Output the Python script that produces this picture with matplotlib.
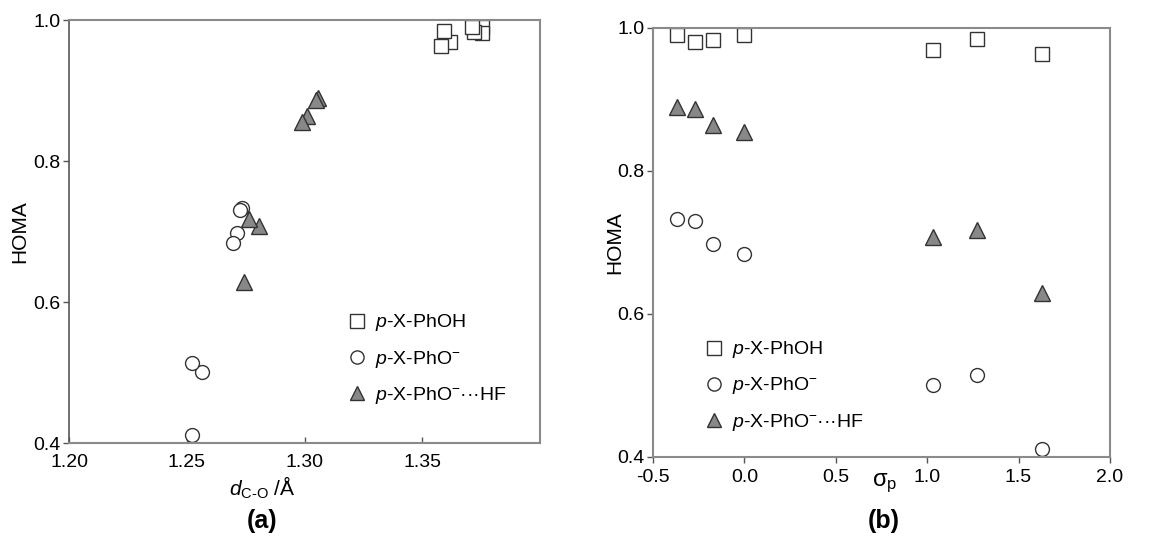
import matplotlib
matplotlib.use('Agg')
import matplotlib.pyplot as plt

plt.rcParams['font.family'] = ['Liberation Sans', 'DejaVu Sans']
plt.rcParams['mathtext.fontset'] = 'custom'
plt.rcParams['mathtext.rm'] = 'Liberation Sans'
plt.rcParams['mathtext.it'] = 'Liberation Sans:italic'
plt.rcParams['mathtext.bf'] = 'Liberation Sans:bold'
plt.rcParams['axes.unicode_minus'] = False

# substituents: OH, OMe, Me, H, CHO, NO2, NO
sigma_p = [-0.37, -0.27, -0.17, 0.00, 1.03, 1.27, 1.63]

homa_phoh = [0.990, 0.981, 0.983, 0.990, 0.969, 0.985, 0.963]
homa_pho = [0.733, 0.730, 0.698, 0.684, 0.501, 0.514, 0.411]
homa_phohf = [0.890, 0.887, 0.864, 0.855, 0.708, 0.718, 0.629]

d_phoh = [1.3753, 1.3753, 1.3721, 1.3709, 1.3618, 1.3593, 1.3579]
d_pho = [1.2735, 1.2725, 1.2711, 1.2697, 1.2563, 1.2523, 1.2523]
d_phohf = [1.3058, 1.3047, 1.3009, 1.2987, 1.2806, 1.2763, 1.2742]

labels = [r'$\it{p}$-X-PhOH', r'$\it{p}$-X-PhO$^{-}$', r'$\it{p}$-X-PhO$^{-}$···HF']

fig = plt.figure(figsize=(11.49, 5.37), dpi=100)
ax1 = fig.add_axes([0.0601, 0.175, 0.41, 0.7877])
ax2 = fig.add_axes([0.5683, 0.149, 0.3977, 0.799])

sq = dict(marker='s', ms=10, mfc='white', mec='#333333', mew=1.0, ls='none', clip_on=False)
ci = dict(marker='o', ms=10, mfc='white', mec='#333333', mew=1.0, ls='none', clip_on=False)
tr = dict(marker='^', ms=11, mfc='#888888', mec='#333333', mew=1.0, ls='none', clip_on=False)


def style(ax):
    for s in ax.spines.values():
        s.set_color('#8a8a8a')
        s.set_linewidth(1.5)
    ax.tick_params(direction='out', length=4, width=1, color='#555555',
                   labelsize=14, top=False, right=False, pad=2)
    ax.set_ylim(0.4, 1.0)
    ax.set_yticks([0.4, 0.6, 0.8, 1.0])
    ax.set_yticklabels(['0.4', '0.6', '0.8', '1.0'])
    ax.set_ylabel('HOMA', fontsize=15)


# panel (a)
ax1.plot(d_phoh, homa_phoh, label=labels[0], **sq)
ax1.plot(d_pho, homa_pho, label=labels[1], **ci)
ax1.plot(d_phohf, homa_phohf, label=labels[2], **tr)
style(ax1)
ax1.spines['left'].set_color('#555555')
ax1.spines['left'].set_linewidth(1.2)
ax1.tick_params(axis='x', direction='in', pad=8)
ax1.set_xlim(1.20, 1.40)
ax1.set_xticks([1.20, 1.25, 1.30, 1.35])
ax1.set_xticklabels(['1.20', '1.25', '1.30', '1.35'])
ax1.set_xlabel(r'$d_{\mathrm{C‐O}}$ /Å', fontsize=15)
ax1.xaxis.set_label_coords(0.41, -0.075)
ax1.yaxis.set_label_coords(-0.085, 0.5)
ax1.legend(loc='upper left', bbox_to_anchor=(0.55, 0.35), frameon=False,
           fontsize=14, labelspacing=0.78, handletextpad=0.3, handlelength=1.2,
           markerscale=0.95)
fig.text(0.228, 0.03, '(a)', fontsize=18, fontweight='bold', ha='center', va='center')

# panel (b)
ax2.plot(sigma_p, homa_phoh, label=labels[0], **sq)
ax2.plot(sigma_p, homa_pho, label=labels[1], **ci)
ax2.plot(sigma_p, homa_phohf, label=labels[2], **tr)
style(ax2)
ax2.tick_params(axis='x', pad=5)
ax2.set_xlim(-0.5, 2.0)
ax2.set_xticks([-0.5, 0.0, 0.5, 1.0, 1.5, 2.0])
ax2.set_xticklabels(['-0.5', '0.0', '0.5', '1.0', '1.5', '2.0'])
ax2.set_xlabel(r'$\mathrm{\sigma_p}$', fontsize=17)
ax2.xaxis.set_label_coords(0.508, -0.035)
ax2.yaxis.set_label_coords(-0.063, 0.5)
ax2.legend(loc='upper left', bbox_to_anchor=(0.07, 0.315), frameon=False,
           fontsize=14, labelspacing=0.78, handletextpad=0.3, handlelength=1.2,
           markerscale=0.95)
fig.text(0.769, 0.03, '(b)', fontsize=18, fontweight='bold', ha='center', va='center')

fig.savefig('out.png', dpi=100)
